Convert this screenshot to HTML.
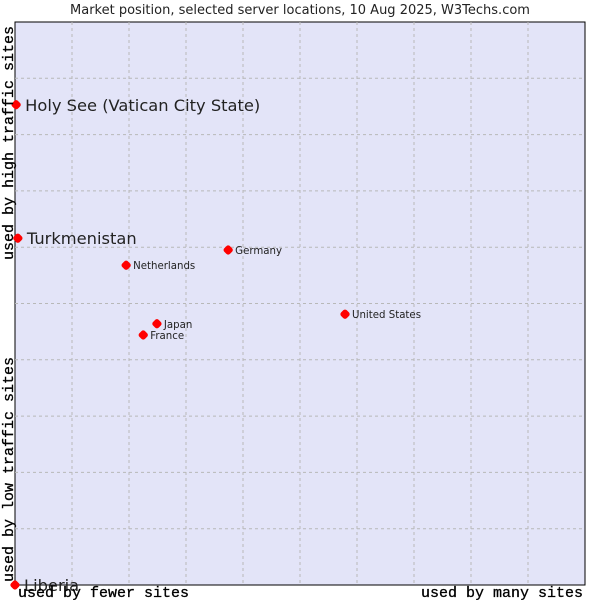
<!DOCTYPE html>
<html><head><meta charset="utf-8"><style>
body{margin:0;background:#fff;width:600px;height:600px;overflow:hidden}
svg{display:block}
</style></head><body>
<svg id="chart" width="600" height="600">
<text x="300" y="14" text-anchor="middle" font-family="DejaVu Sans, sans-serif" font-size="13" fill="#222">Market position, selected server locations, 10 Aug 2025, W3Techs.com</text>
<rect x="15" y="22" width="570" height="563" fill="#e3e4f8" stroke="#000" stroke-width="1"/>
<g id="grid"></g>
<g id="pts"></g>
<text transform="translate(13,260) rotate(-90)" font-family="Liberation Mono, DejaVu Sans Mono, monospace" font-size="15" fill="#000" stroke="#000" stroke-width="0.3">used by high traffic sites</text>
<text transform="translate(13,582) rotate(-90)" font-family="Liberation Mono, DejaVu Sans Mono, monospace" font-size="15" fill="#000" stroke="#000" stroke-width="0.3">used by low traffic sites</text>
<text x="18" y="597" font-family="Liberation Mono, DejaVu Sans Mono, monospace" font-size="15" fill="#000" stroke="#000" stroke-width="0.3">used by fewer sites</text>
<text x="583" y="597" text-anchor="end" font-family="Liberation Mono, DejaVu Sans Mono, monospace" font-size="15" fill="#000" stroke="#000" stroke-width="0.3">used by many sites</text>
</svg>
<script>
const names = ["Holy See (Vatican City State)","Turkmenistan","Liberia","Germany","Netherlands","United States","Japan","France"];
const xs = [0.2,0.5,0,37.4,19.5,57.9,24.9,22.5];
const ys = [85.3,61.6,0,59.5,56.8,48.1,46.4,44.4];
const big = [true,true,true,false,false,false,false,false];
const L=15,R=585,T=22,B=585;
const sx=v=>L+v/100*(R-L), sy=v=>B-v/100*(B-T);
const NS="http://www.w3.org/2000/svg";
const g=document.getElementById('grid');
for(let i=1;i<10;i++){
  const x=L+i*(R-L)/10;
  const l=document.createElementNS(NS,'line');
  l.setAttribute('x1',x);l.setAttribute('x2',x);l.setAttribute('y1',T);l.setAttribute('y2',B);
  l.setAttribute('stroke','#b8b8b8');l.setAttribute('stroke-dasharray','3,3');
  
  
  g.appendChild(l);
  const y=T+i*(B-T)/10;
  const h=document.createElementNS(NS,'line');
  h.setAttribute('x1',L);h.setAttribute('x2',R);h.setAttribute('y1',y);h.setAttribute('y2',y);
  h.setAttribute('stroke','#b8b8b8');h.setAttribute('stroke-dasharray','3,3');
  
  
  g.appendChild(h);
}
const p=document.getElementById('pts');
names.forEach((n,i)=>{
  const x=sx(xs[i]),y=sy(ys[i]);
  const c=document.createElementNS(NS,'rect');
  c.setAttribute('x',x-4);c.setAttribute('y',y-4);
  c.setAttribute('width',8);c.setAttribute('height',8);
  c.setAttribute('rx',2.5);
  c.setAttribute('transform',`rotate(45 ${x} ${y})`);
  c.setAttribute('fill','#f00');
  
  
  p.appendChild(c);
  const t=document.createElementNS(NS,'text');
  t.setAttribute('x',x+(big[i]?9:7));
  t.setAttribute('y',y+(big[i]?6:4));
  t.setAttribute('font-family','DejaVu Sans, sans-serif');
  t.setAttribute('font-size',big[i]?'16.3':'10.2');
  t.setAttribute('fill','#222');
  t.textContent=n;
  
  
  p.appendChild(t);
});
</script>
</body></html>
